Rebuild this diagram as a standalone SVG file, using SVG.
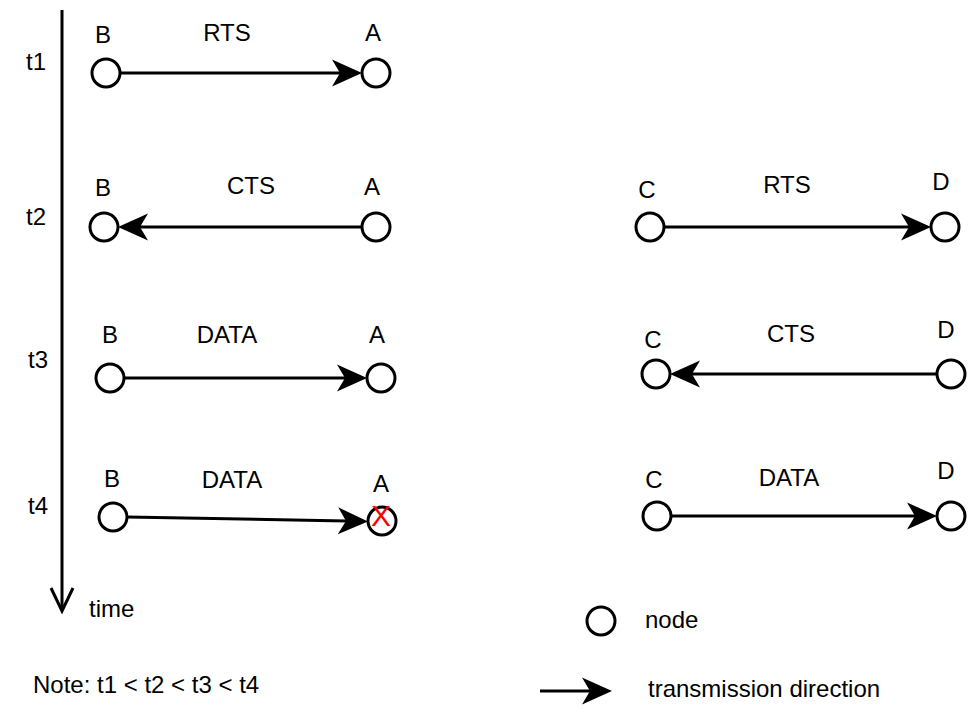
<svg xmlns="http://www.w3.org/2000/svg" width="973" height="709" viewBox="0 0 973 709">
  <style>
    .lbl { font-family: "Liberation Sans", Arial, sans-serif; font-size: 24px; fill: #000; }
    .mid { text-anchor: middle; }
    .node { fill: #fff; stroke: #000; stroke-width: 3; }
    .edge { fill: none; stroke: #000; stroke-width: 3; }
    .drop { font-family: "Liberation Sans", Arial, sans-serif; font-size: 30px; fill: #ff0000; text-anchor: middle; }
  </style>
  <defs>
    <!-- filled arrowhead with notch; the line ends at the notch -->
    <marker id="head" viewBox="-10 -15 34 30" markerWidth="34" markerHeight="30" refX="0" refY="0" orient="auto" markerUnits="userSpaceOnUse">
      <path d="M22,0 L-8,-13.5 L0,0 L-8,13.5 Z" fill="#000"/>
    </marker>
  </defs>
  <rect width="973" height="709" fill="#fff"/>

  <!-- time axis -->
  <g id="time-axis">
    <line class="edge" x1="62" y1="10" x2="62" y2="610"/>
    <path class="edge" d="M51,588 L62,611 L73,588"/>
    <text class="lbl" x="89" y="617">time</text>
    <text class="lbl" x="26" y="70">t1</text>
    <text class="lbl" x="26" y="225">t2</text>
    <text class="lbl" x="28" y="368">t3</text>
    <text class="lbl" x="28" y="514">t4</text>
  </g>

  <!-- connectors -->
  <g id="connectors">
    <line class="edge" x1="120" y1="73" x2="340" y2="73" marker-end="url(#head)"/>
    <line class="edge" x1="362" y1="227" x2="140" y2="227" marker-end="url(#head)"/>
    <line class="edge" x1="124" y1="378" x2="345" y2="378" marker-end="url(#head)"/>
    <line class="edge" x1="127" y1="517" x2="346" y2="521" marker-end="url(#head)"/>
    <line class="edge" x1="664" y1="227" x2="909" y2="227" marker-end="url(#head)"/>
    <line class="edge" x1="937" y1="374" x2="692" y2="374" marker-end="url(#head)"/>
    <line class="edge" x1="671" y1="516" x2="915" y2="516" marker-end="url(#head)"/>
    <line class="edge" x1="540" y1="691" x2="590" y2="691" marker-end="url(#head)"/>
  </g>

  <!-- t1 -->
  <g id="t1-B"><circle class="node" cx="106" cy="73" r="14"/><text class="lbl mid" x="103" y="43">B</text></g>
  <g id="t1-A"><circle class="node" cx="376" cy="73" r="14"/><text class="lbl mid" x="373" y="41">A</text></g>
  <text class="lbl mid" x="227" y="41">RTS</text>

  <!-- t2 -->
  <g id="t2-B"><circle class="node" cx="104" cy="227" r="14"/><text class="lbl mid" x="103" y="196">B</text></g>
  <g id="t2-A"><circle class="node" cx="376" cy="227" r="14"/><text class="lbl mid" x="372" y="195">A</text></g>
  <text class="lbl mid" x="251" y="194">CTS</text>
  <g id="t2-C"><circle class="node" cx="650" cy="227" r="14"/><text class="lbl mid" x="647" y="198">C</text></g>
  <g id="t2-D"><circle class="node" cx="945" cy="227" r="14"/><text class="lbl mid" x="941" y="190">D</text></g>
  <text class="lbl mid" x="787" y="193">RTS</text>

  <!-- t3 -->
  <g id="t3-B"><circle class="node" cx="110" cy="378" r="14"/><text class="lbl mid" x="110" y="343">B</text></g>
  <g id="t3-A"><circle class="node" cx="381" cy="378" r="14"/><text class="lbl mid" x="377" y="343">A</text></g>
  <text class="lbl mid" x="227" y="343">DATA</text>
  <g id="t3-C"><circle class="node" cx="656" cy="374" r="14"/><text class="lbl mid" x="653" y="348">C</text></g>
  <g id="t3-D"><circle class="node" cx="951" cy="374" r="14"/><text class="lbl mid" x="946" y="338">D</text></g>
  <text class="lbl mid" x="791" y="342">CTS</text>

  <!-- t4 -->
  <g id="t4-B"><circle class="node" cx="113" cy="517" r="14"/><text class="lbl mid" x="112" y="487">B</text></g>
  <g id="t4-A"><circle class="node" cx="382" cy="521" r="14"/><text class="lbl mid" x="381" y="492">A</text><text class="drop" x="381" y="526">X</text></g>
  <text class="lbl mid" x="232" y="488">DATA</text>
  <g id="t4-C"><circle class="node" cx="657" cy="516" r="14"/><text class="lbl mid" x="654" y="488">C</text></g>
  <g id="t4-D"><circle class="node" cx="951" cy="516" r="14"/><text class="lbl mid" x="946" y="479">D</text></g>
  <text class="lbl mid" x="789" y="486">DATA</text>

  <!-- legend -->
  <g id="legend-node"><circle class="node" cx="601" cy="621" r="14"/><text class="lbl" x="645" y="628">node</text></g>
  <text class="lbl" x="648" y="697">transmission direction</text>
  <text class="lbl" x="33" y="693">Note: t1 &lt; t2 &lt; t3 &lt; t4</text>
</svg>
